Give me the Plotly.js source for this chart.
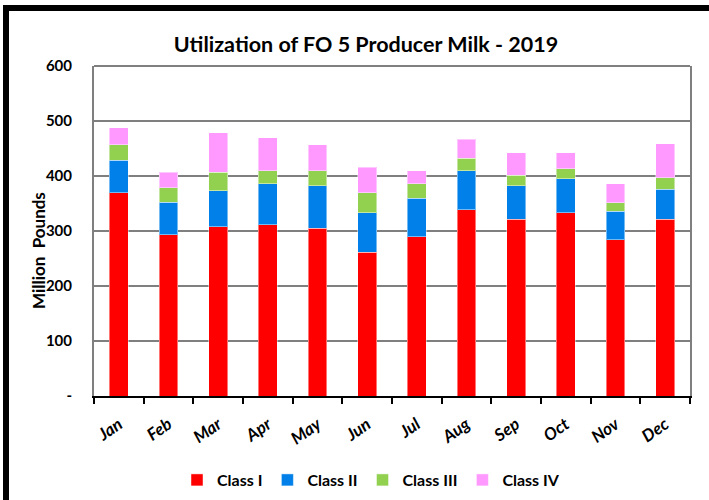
<!DOCTYPE html>
<html>
<head>
<meta charset="utf-8">
<script src="https://cdn.plot.ly/plotly-3.0.1.min.js"></script>
<style>html,body{margin:0;padding:0;background:#fff;}#chart{width:709px;height:500px;}</style>
</head>
<body>
<div id="chart"></div>
<script>
const months = ["Jan","Feb","Mar","Apr","May","Jun","Jul","Aug","Sep","Oct","Nov","Dec"];
const classI   = [370, 293, 308, 311, 305, 261, 290, 339, 321, 333, 284, 321];
const classII  = [59, 59, 65, 75, 77, 72, 70, 71, 61, 62, 52, 55];
const classIII = [28, 27, 34, 24, 28, 37, 26, 22, 19, 18, 15, 21];
const classIV  = [31, 28, 72, 60, 47, 46, 24, 35, 41, 29, 35, 62];
const seriesNames = ["Class I", "Class II", "Class III", "Class IV"];
const seriesColors = ["#FF0000", "#0080E8", "#92D050", "#FF99FF"];
const yTickVals = [0, 100, 200, 300, 400, 500, 600];
const yTickText = ["-", "100", "200", "300", "400", "500", "600"];

const FONT = "Lato, 'Liberation Sans', sans-serif";
const seriesData = [classI, classII, classIII, classIV];
const traces = seriesData.map((vals, i) => ({
  type: "bar",
  x: months,
  y: vals,
  name: seriesNames[i],
  marker: {color: seriesColors[i], line: {color: "rgba(255,255,255,0.45)", width: 1}},
  hoverinfo: "x+y+name"
}));

const L = 94, R = 690, T = 66, B = 396;
const W = R - L, H = B - T;
const px = v => (v - L) / W;
const py = v => (B - v) / H;

const layout = {
  width: 709, height: 500,
  paper_bgcolor: "#fff", plot_bgcolor: "#fff",
  barmode: "stack",
  bargap: 0.62,
  margin: {l: L, r: 709 - R, t: T, b: 500 - B, autoexpand: false},
  font: {family: FONT, color: "#000"},
  title: {
    text: "<b>Utilization of FO 5 Producer Milk - 2019</b>",
    font: {family: FONT, size: 21.5, color: "#000"},
    x: 366/709, xanchor: "center", xref: "container",
    y: 1 - 44/500, yanchor: "middle", yref: "container"
  },
  xaxis: {
    type: "category",
    automargin: false,
    tickson: "boundaries",
    ticks: "outside", ticklen: 6, tickwidth: 2, tickcolor: "#000",
    showline: true, linecolor: "#000", linewidth: 2,
    tickangle: -35,
    ticklabelstandoff: 10,
    tickfont: {family: FONT, size: 17, color: "#000", style: "italic", weight: "bold"},
    showgrid: false
  },
  yaxis: {
    automargin: false,
    range: [0, 600],
    tickvals: yTickVals, ticktext: yTickText,
    tickfont: {family: FONT, size: 15, color: "#000", weight: "bold"},
    showgrid: true, gridcolor: "#7f7f7f", gridwidth: 1.5,
    showline: true, linecolor: "#7f7f7f", linewidth: 2, mirror: true,
    ticks: "", ticklen: 0,
    ticklabelstandoff: 17,
    zeroline: false
  },
  annotations: [
    {text: "<b>Million\u00a0\u00a0Pounds</b>", textangle: -90, showarrow: false,
     xref: "paper", yref: "paper", x: px(39), y: py(251), xanchor: "center", yanchor: "middle",
     font: {family: FONT, size: 17, color: "#000"}}
  ],
  legend: {
    orientation: "h",
    x: px(371), xanchor: "center",
    y: py(480), yanchor: "middle",
    font: {family: FONT, size: 16, color: "#000", weight: "bold"},
    traceorder: "normal",
    itemwidth: 30
  },
  shapes: [
    {type: "line", xref: "paper", yref: "paper", x0: px(3), x1: px(720), y0: py(8), y1: py(8), line: {color: "#000", width: 6}},
    {type: "line", xref: "paper", yref: "paper", x0: px(6), x1: px(6), y0: py(5), y1: py(510), line: {color: "#000", width: 6}},
    {type: "line", xref: "paper", yref: "paper", x0: 0, x1: 1, y0: 1, y1: 1, line: {color: "#7f7f7f", width: 2}}
  ]
};

Plotly.newPlot("chart", traces, layout, {displayModeBar: false, staticPlot: true});
</script>
</body>
</html>
